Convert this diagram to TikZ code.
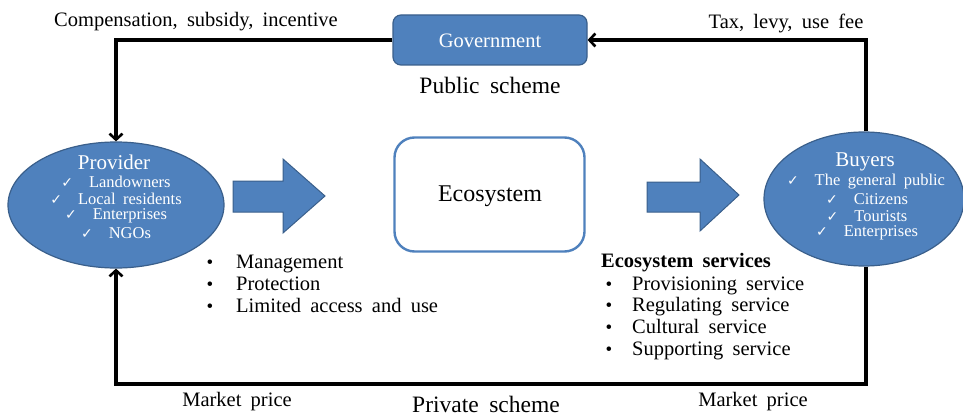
\documentclass[tikz,border=0pt]{standalone}
\usepackage{fontspec}
\setmainfont{Liberation Serif}[WordSpace=1.8]
\newfontfamily\symfont{DejaVu Sans}
\usetikzlibrary{arrows.meta,shapes.geometric}
\definecolor{esblue}{HTML}{4F81BD}
\definecolor{esedge}{HTML}{3A5F8B}
\newcommand{\ck}{{\symfont\fontsize{14}{16}\selectfont ✓}\hspace{16pt}}
\begin{document}
\begin{tikzpicture}[x=1pt,y=-1pt,
  txt/.style={inner sep=0pt, font=\fontsize{20.5}{24}\selectfont},
  line/.style={txt, anchor=base west},
  big/.style={inner sep=0pt, font=\fontsize{23.5}{28}\selectfont},
  item/.style={inner sep=0pt, text=white, font=\fontsize{16.5}{19}\selectfont},
  head/.style={inner sep=0pt, text=white, font=\fontsize{21}{25}\selectfont},
  actor/.style={ellipse, draw=esedge, line width=1.2pt, fill=esblue, inner sep=0pt},
  bluebox/.style={draw=esedge, line width=1.2pt, fill=esblue, rounded corners=8pt},
  blockarrow/.style={draw=esedge, line width=1pt, fill=esblue},
  flow/.style={line width=3.6pt, -{Straight Barb[length=6pt,width=13pt,line width=2.6pt]}},
  dot/.style={inner sep=0pt, anchor=base, font=\fontsize{19}{22}\selectfont}]
\useasboundingbox (0,0) rectangle (963,417);

% actors and the ecosystem
\node[actor, minimum width=216, minimum height=126] (prov) at (116,205) {};
\node[actor, minimum width=200, minimum height=134] (buy) at (864,199) {};
\node[bluebox, minimum width=194, minimum height=50] (gov) at (490,40) {};
\node[draw=esblue, line width=2.4pt, rounded corners=20pt, fill=white,
      minimum width=190, minimum height=114] (eco) at (489.5,194.5) {};
\node[inner sep=0pt, font=\fontsize{24}{28}\selectfont] (ecot) at (490,196) {Ecosystem};
\node[head, font=\fontsize{20.5}{24}\selectfont] (govt) at (490,41) {Government};

% provider text
\node[head] (provt) at (114,162) {Provider};
\node[item] (p1) at (116,182) {\ck Landowners};
\node[item] (p2) at (116,199) {\ck Local residents};
\node[item] (p3) at (116,216) {\ck Enterprises};
\node[item] (p4) at (116,233) {\ck NGOs};

% buyer text
\node[head] (buyt) at (865,162) {Buyers};
\node[item] (b1) at (866,182) {\ck The general public};
\node[item] (b2) at (867,199) {\ck Citizens};
\node[item] (b3) at (867,216) {\ck Tourists};
\node[item] (b4) at (867,233) {\ck Enterprises};

% block arrows
\draw[blockarrow] (233,181) -- (283,181) -- (283,159) -- (325,196)
  -- (283,233) -- (283,212) -- (233,212) -- cycle;
\draw[blockarrow] (647,182) -- (700,182) -- (700,159) -- (739,195)
  -- (700,231) -- (700,212) -- (647,212) -- cycle;

% management list
\node[line] (mt0) at (236,268) {Management};
\node[line] (mt1) at (236,290) {Protection};
\node[line] (mt2) at (236,312) {Limited access and use};
\node[dot] (m0) at (mt0.base -| 210,0) {•};
\node[dot] (m1) at (mt1.base -| 210,0) {•};
\node[dot] (m2) at (mt2.base -| 210,0) {•};

% ecosystem services list
\node[line, font=\fontsize{20.5}{24}\selectfont\bfseries] (est) at (601,267) {Ecosystem services};
\node[line] (st0) at (632,290) {Provisioning service};
\node[line] (st1) at (632,311.7) {Regulating service};
\node[line] (st2) at (632,333.4) {Cultural service};
\node[line] (st3) at (632,355) {Supporting service};
\node[dot] (s0) at (st0.base -| 609,0) {•};
\node[dot] (s1) at (st1.base -| 609,0) {•};
\node[dot] (s2) at (st2.base -| 609,0) {•};
\node[dot] (s3) at (st3.base -| 609,0) {•};

% payment flows
\coordinate (base) at (0,384);
\draw[flow] (gov.west) -| (prov.north);
\draw[flow] (buy.north -| 866,0) |- (gov.east);
\draw[flow] (buy.south -| 866,0) |- (base -| prov.south) -- (prov.south);

% flow labels
\node[txt] (comp) at (196,22) {Compensation, subsidy, incentive};
\node[txt] (tax) at (786,23) {Tax, levy, use fee};
\node[big] (pub) at (490,85) {Public scheme};
\node[txt] (mp1) at (237,402) {Market price};
\node[txt] (mp2) at (753,402) {Market price};
\node[big] (priv) at (486,404) {Private scheme};
\end{tikzpicture}
\end{document}
